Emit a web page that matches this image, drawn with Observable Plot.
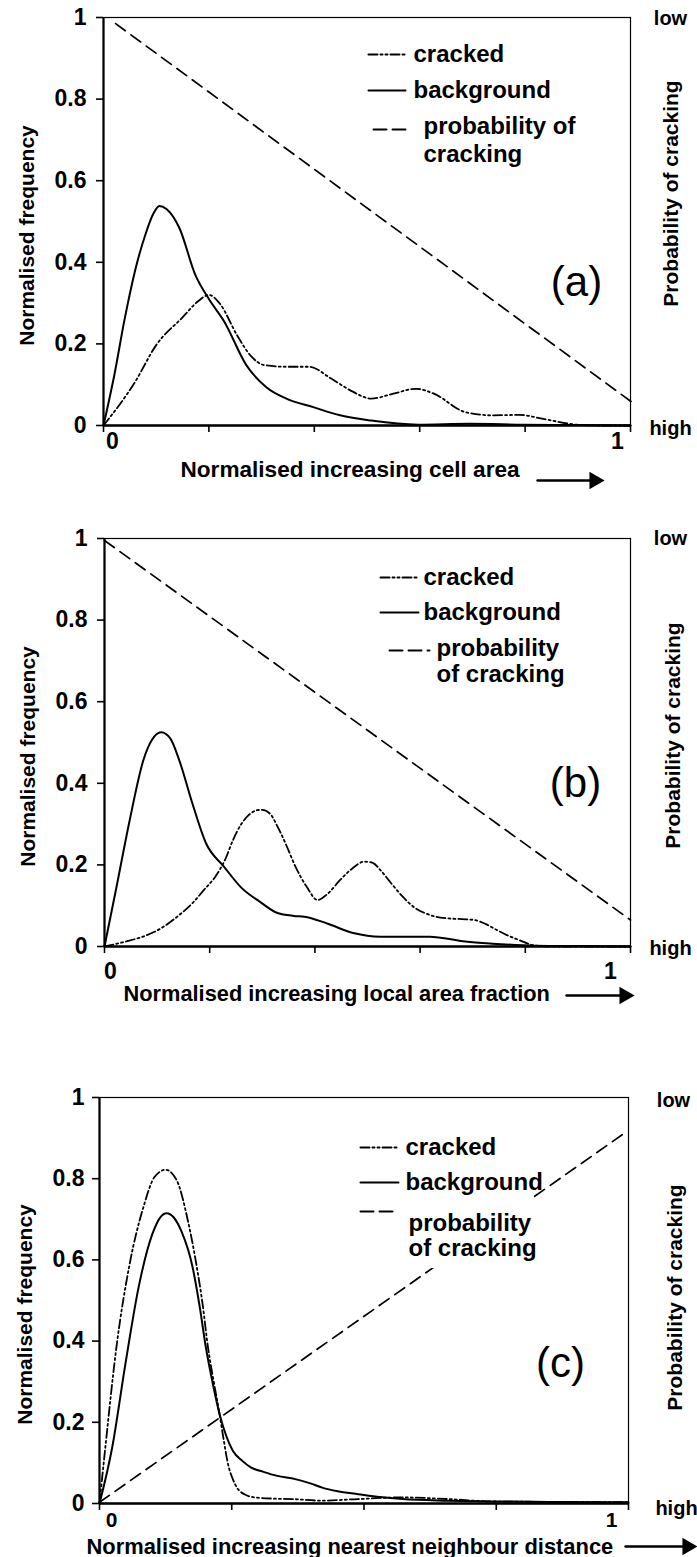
<!DOCTYPE html>
<html><head><meta charset="utf-8">
<script src="https://cdn.jsdelivr.net/npm/d3@7"></script>
<script src="https://cdn.jsdelivr.net/npm/@observablehq/plot@0.6"></script>
<style>
body{margin:0;background:#fff}
#root{position:relative;width:697px;height:1557px;background:#fff}
#root svg{position:absolute;left:0;display:block}
</style>
</head><body><div id="root"></div>
<script>
// ---------- data ----------
// Panel (a): cell area
const aBgX = [0, 0.02, 0.04, 0.06, 0.08, 0.095, 0.106, 0.12, 0.144, 0.174, 0.2, 0.229, 0.271, 0.309, 0.347, 0.398, 0.449, 0.508, 0.597, 0.695, 0.797, 0.9, 1.0];
const aBgY = [0, 0.12, 0.26, 0.38, 0.47, 0.52, 0.538, 0.53, 0.484, 0.37, 0.31, 0.255, 0.148, 0.094, 0.066, 0.045, 0.025, 0.012, 0.002, 0.004, 0.002, 0.001, 0];
const aCrX = [0, 0.06, 0.1, 0.15, 0.18, 0.2, 0.22, 0.254, 0.28, 0.305, 0.347, 0.39, 0.432, 0.47, 0.508, 0.55, 0.593, 0.627, 0.686, 0.737, 0.788, 0.839, 0.898, 0.94, 1.0];
const aCrY = [0, 0.107, 0.197, 0.265, 0.305, 0.32, 0.30, 0.22, 0.17, 0.148, 0.144, 0.144, 0.115, 0.085, 0.066, 0.078, 0.09, 0.078, 0.033, 0.025, 0.026, 0.015, 0.002, 0, 0];
const aProbX = [0.023, 1.005];
const aProbY = [0.985, 0.055];

// Panel (b): local area fraction
const bBgX = [0, 0.023, 0.048, 0.074, 0.09, 0.108, 0.125, 0.142, 0.167, 0.193, 0.227, 0.261, 0.295, 0.329, 0.36, 0.38, 0.422, 0.473, 0.524, 0.57, 0.618, 0.686, 0.737, 0.82, 0.9, 1.0];
const bBgY = [0, 0.147, 0.31, 0.457, 0.506, 0.525, 0.51, 0.457, 0.351, 0.253, 0.196, 0.143, 0.11, 0.082, 0.075, 0.073, 0.057, 0.033, 0.024, 0.024, 0.024, 0.012, 0.007, 0.002, 0.001, 0];
const bCrX = [0, 0.04, 0.075, 0.108, 0.14, 0.167, 0.19, 0.21, 0.23, 0.244, 0.26, 0.274, 0.29, 0.3, 0.315, 0.329, 0.345, 0.363, 0.385, 0.405, 0.425, 0.448, 0.47, 0.494, 0.51, 0.524, 0.545, 0.567, 0.59, 0.609, 0.63, 0.652, 0.68, 0.703, 0.725, 0.745, 0.765, 0.788, 0.82, 0.86, 1.0];
const bCrY = [0, 0.012, 0.025, 0.045, 0.075, 0.106, 0.14, 0.17, 0.215, 0.26, 0.3, 0.322, 0.334, 0.335, 0.325, 0.294, 0.25, 0.196, 0.145, 0.114, 0.13, 0.163, 0.19, 0.208, 0.205, 0.188, 0.155, 0.122, 0.095, 0.082, 0.073, 0.069, 0.067, 0.065, 0.055, 0.041, 0.028, 0.016, 0.002, 0, 0];
const bProbX = [0, 1.0];
const bProbY = [0.995, 0.065];

// Panel (c): nearest neighbour distance
const cBgX = [0, 0.024, 0.049, 0.074, 0.1, 0.115, 0.127, 0.14, 0.155, 0.176, 0.19, 0.201, 0.215, 0.227, 0.24, 0.252, 0.27, 0.286, 0.31, 0.336, 0.37, 0.4, 0.421, 0.45, 0.489, 0.53, 0.573, 0.658, 0.742, 0.85, 1.0];
const cBgY = [0, 0.138, 0.344, 0.533, 0.664, 0.705, 0.715, 0.705, 0.67, 0.582, 0.48, 0.385, 0.29, 0.22, 0.165, 0.13, 0.105, 0.089, 0.078, 0.068, 0.06, 0.049, 0.039, 0.03, 0.023, 0.016, 0.011, 0.007, 0.005, 0.004, 0.003];
const cCrX = [0, 0.011, 0.032, 0.057, 0.083, 0.104, 0.125, 0.146, 0.167, 0.184, 0.195, 0.205, 0.216, 0.227, 0.235, 0.243, 0.252, 0.26, 0.275, 0.294, 0.33, 0.362, 0.421, 0.489, 0.573, 0.658, 0.742, 0.85, 1.0];
const cCrY = [0, 0.138, 0.385, 0.59, 0.73, 0.804, 0.822, 0.796, 0.697, 0.582, 0.49, 0.385, 0.3, 0.22, 0.155, 0.097, 0.06, 0.039, 0.022, 0.015, 0.012, 0.011, 0.007, 0.011, 0.015, 0.011, 0.005, 0.004, 0.003];
const cProbX = [0, 0.99];
const cProbY = [0.003, 0.91];

// ticks and labels
const yTicks = [0, 0.2, 0.4, 0.6, 0.8, 1];
const xTicks5 = [0, 0.2, 0.4, 0.6, 0.8, 1];
const xTicks4 = [0, 0.25, 0.5, 0.75, 1];
const xEndLabels = ["0", "1"];
const panelLabels = ["(a)", "(b)", "(c)"];
const xTitles = ["Normalised increasing cell area", "Normalised increasing local area fraction", "Normalised increasing nearest neighbour distance"];
const yTitle = "Normalised frequency";
const y2Title = "Probability of cracking";
const y2Ends = ["low", "high"];
const seriesNames = ["cracked", "background"];
const probLegendA = ["probability of", "cracking"];
const probLegendBC = ["probability", "of cracking"];

// ---------- layout (page pixels) ----------
const layouts = [
  {frame:{L:103,R:630,T:17,B:425}, top:0, h:505, pad:10, ticks:xTicks5, xtSize:22.6, endSize:23,
   x0:[112,441], x1:[617,441], xt:[180,469], arrow:[537,600,480],
   low:[670,18], high:[670,428], y2t:[671,193], yt:[27,235], pl:[576,282],
   sw:[[368,405,54],[368,405,90],[373,408,129]], tx:[[413,54],[413,90],[423,126],[423,154]], box:null},
  {frame:{L:104,R:630,T:538,B:946}, top:505, h:555, pad:10, ticks:xTicks5, xtSize:21.8, endSize:23,
   x0:[110,971], x1:[610,971], xt:[123,994], arrow:[566,630,995],
   low:[670,538], high:[670,948], y2t:[673,735], yt:[28,756], pl:[575,783],
   sw:[[380,418,577],[380,418,612],[389,429,650]], tx:[[423,577],[423,612],[436,648],[436,674]], box:null},
  {frame:{L:99,R:628,T:1097,B:1503}, top:1060, h:497, pad:8, ticks:xTicks4, xtSize:21.9, endSize:21,
   x0:[111,1520], x1:[611,1520], xt:[86,1546], arrow:[625,693,1546],
   low:[673,1100], high:[676,1508], y2t:[675,1297], yt:[25,1314], pl:[560,1363],
   sw:[[360,398,1147],[360,398,1182],[360,397,1211]], tx:[[405,1147],[405,1182],[408,1223],[408,1248]], box:[355,530,1135,1268]}
];

const series = [
  {bg:[aBgX,aBgY], cr:[aCrX,aCrY], pr:[aProbX,aProbY], prob:probLegendA},
  {bg:[bBgX,bBgY], cr:[bCrX,bCrY], pr:[bProbX,bProbY], prob:probLegendBC},
  {bg:[cBgX,cBgY], cr:[cCrX,cCrY], pr:[cProbX,cProbY], prob:probLegendBC}
];

const DASHDOT = "9,3,2,3,2,3";
const DASH = "12,7";
const FONT = "'Liberation Sans', Arial, Helvetica, sans-serif";

const zip = (xs, ys) => xs.map((x, i) => ({x, y: ys[i]}));

function makePanel(i) {
  const lay = layouts[i], s = series[i];
  const {L, R, T, B} = lay.frame;
  const W = 697;
  const dx = (px) => (px - L) / (R - L);
  const dy = (py) => (B - py) / (B - T);
  const txt = (str, p, o = {}) => Plot.text([str], {x: () => dx(p[0]), y: () => dy(p[1]), text: d => d, fill: "#000", fontWeight: "bold", lineAnchor: "middle", ...o});
  const marks = [];
  // probability line
  marks.push(Plot.line(zip(...s.pr), {x: "x", y: "y", stroke: "#000", strokeWidth: 1.7, strokeDasharray: DASH}));
  // curves
  marks.push(Plot.line(zip(...s.bg), {x: "x", y: "y", stroke: "#000", strokeWidth: 2, curve: "monotone-x"}));
  marks.push(Plot.line(zip(...s.cr), {x: "x", y: "y", stroke: "#000", strokeWidth: 1.8, strokeDasharray: DASHDOT, curve: "monotone-x"}));
  // frame and axes
  marks.push(Plot.frame({stroke: "#000", strokeWidth: 1.2}));
  marks.push(Plot.ruleX([0], {stroke: "#000", strokeWidth: 2.2}));
  marks.push(Plot.ruleY([0], {stroke: "#000", strokeWidth: 2.6}));
  marks.push(Plot.axisY({ticks: yTicks, tickSize: 7, tickFormat: () => "", label: null, strokeWidth: 1.6, color: "#000"}));
  marks.push(Plot.text(yTicks, {y: d => d, frameAnchor: "left", dx: -(7 + lay.pad), textAnchor: "end", lineAnchor: "middle",
    text: d3.format("~g"), fontSize: 23, fontWeight: "bold", fill: "#000"}));
  marks.push(Plot.axisX({ticks: lay.ticks, tickSize: 7, tickFormat: () => "", label: null, strokeWidth: 1.6, color: "#000"}));
  marks.push(txt(xEndLabels[0], lay.x0, {fontSize: lay.endSize}));
  marks.push(txt(xEndLabels[1], lay.x1, {fontSize: lay.endSize}));
  // legend
  if (lay.box) {
    const b = lay.box;
    marks.push(Plot.rect([0], {x1: () => dx(b[0]), x2: () => dx(b[1]), y1: () => dy(b[3]), y2: () => dy(b[2]), fill: "#fff"}));
  }
  const swStyles = [{strokeDasharray: DASHDOT}, {}, {strokeDasharray: "13,6"}];
  lay.sw.forEach((w, k) => {
    marks.push(Plot.line([{x: dx(w[0]), y: dy(w[2])}, {x: dx(w[1]), y: dy(w[2])}], {x: "x", y: "y", stroke: "#000", strokeWidth: 2, ...swStyles[k]}));
  });
  const legTexts = [seriesNames[0], seriesNames[1], s.prob[0], s.prob[1]];
  legTexts.forEach((t, k) => marks.push(txt(t, lay.tx[k], {fontSize: 24, textAnchor: "start"})));
  // panel label
  marks.push(txt(panelLabels[i], lay.pl, {fontSize: 42, fontWeight: "normal"}));
  // titles
  marks.push(txt(xTitles[i], lay.xt, {fontSize: lay.xtSize, textAnchor: "start"}));
  marks.push(txt(yTitle, lay.yt, {fontSize: 21, rotate: -90}));
  marks.push(txt(y2Title, lay.y2t, {fontSize: 21, rotate: -90}));
  marks.push(txt(y2Ends[0], lay.low, {fontSize: 20}));
  marks.push(txt(y2Ends[1], lay.high, {fontSize: 20}));
  // arrow
  const a = lay.arrow;
  marks.push(Plot.line([{x: dx(a[0]), y: dy(a[2])}, {x: dx(a[1] - 10), y: dy(a[2])}], {x: "x", y: "y", stroke: "#000", strokeWidth: 2.4}));
  marks.push(Plot.dot([{x: dx(a[1] - 6), y: dy(a[2])}], {x: "x", y: "y", symbol: "triangle", rotate: 90, r: 6.5, fill: "#000", stroke: "none"}));

  const svg = Plot.plot({
    width: W, height: lay.h,
    marginLeft: L, marginRight: W - R,
    marginTop: T - lay.top, marginBottom: lay.h - (B - lay.top),
    x: {domain: [0, 1]},
    y: {domain: [0, 1]},
    style: {fontFamily: FONT, fontWeight: "bold", background: "transparent", overflow: "visible", color: "#000"},
    marks
  });
  svg.style.top = lay.top + "px";
  return svg;
}

const root = document.getElementById("root");
[0, 1, 2].forEach(i => root.appendChild(makePanel(i)));
</script></body></html>
